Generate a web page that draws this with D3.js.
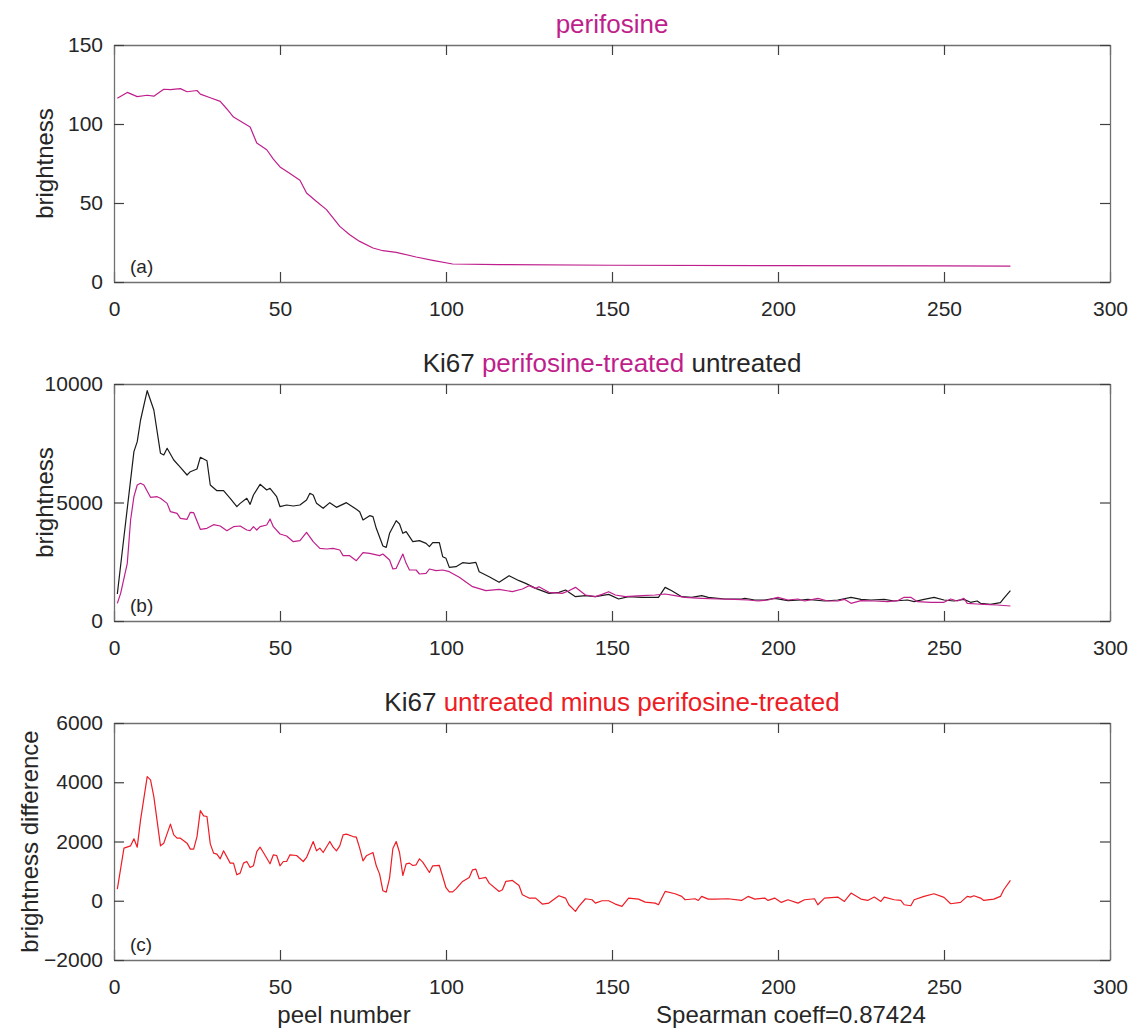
<!DOCTYPE html>
<html>
<head>
<meta charset="utf-8">
<script src="https://cdn.jsdelivr.net/npm/d3@7"></script>
<style>
    body { margin: 0; background: #fff; }
    text { font-family: "Liberation Sans", Arial, Helvetica, sans-serif; fill: #262626; }
</style>
</head>
<body>
<svg id="fig"></svg>
<script>
const xTicks = [0, 50, 100, 150, 200, 250, 300];

const perifPeel = [1, 4, 7, 10, 12, 14, 15, 17, 20, 22, 25, 26, 29, 32, 34, 36, 39, 41, 43, 46,
    48, 50, 53, 56, 58, 61, 64, 68, 71, 74, 78, 81, 85, 91, 96, 102, 116, 150, 200, 250, 270];
const perifBright = [116.3, 120, 117.3, 118.2, 117.6, 120.5, 122, 121.7, 122.4, 120.4, 121.2, 118.9,
    116.6, 114.3, 109.5, 104.4, 100.6, 98.1, 88, 83.7, 77.8, 72.8, 68.6, 64.4, 56.3, 51, 45.8, 35.2,
    29.9, 25.7, 21.5, 19.8, 18.8, 15.8, 13.7, 11.4, 11, 10.6, 10.4, 10.2, 10.1];
const perifTicks = [0, 50, 100, 150];

const untreatedPeel = [1, 3, 6, 7, 8, 10, 12, 14, 15, 16,
    18, 20, 22, 23, 25, 26, 28, 29, 31, 33,
    35, 37, 38, 40, 41, 42, 44, 46, 47, 49,
    50, 52, 54, 56, 58, 59, 60, 61, 63, 65,
    67, 70, 73, 74, 75, 77, 78, 79, 81, 82,
    83, 85, 86, 87, 88, 90, 92, 94, 95, 96,
    98, 99, 100, 101, 103, 105, 107, 109, 110, 113,
    116, 119, 122, 124, 127, 131, 134, 136, 139, 142,
    145, 149, 152, 155, 159, 164, 166, 168, 171, 174,
    177, 179, 184, 189, 190, 193, 196, 199, 203, 207,
    209, 214, 218, 222, 225, 228, 232, 235, 239, 241,
    244, 247, 250, 253, 256, 258, 260, 261, 264, 267,
    268, 270];
const untreatedKi67 = [1139, 3557, 7145, 7567, 8481, 9718, 8903, 7075, 7005, 7286,
    6793, 6484, 6160, 6300, 6413, 6906, 6763, 5738, 5498, 5498,
    5177, 4823, 4964, 5177, 4922, 5316, 5767, 5527, 5598, 5245,
    4823, 4894, 4852, 4894, 5105, 5387, 5316, 4964, 4754, 4993,
    4796, 4993, 4712, 4613, 4262, 4444, 4402, 3910, 3165, 3108,
    3699, 4233, 4093, 3699, 3770, 3347, 3389, 3277, 3136, 3305,
    3305, 2714, 2644, 2264, 2292, 2461, 2433, 2475, 2081, 1870,
    1631, 1913, 1702, 1589, 1378, 1167, 1209, 1308, 1027, 1069,
    1027, 1125, 928, 1027, 997, 997, 1420, 1279, 1027, 997,
    1069, 997, 928, 928, 956, 886, 886, 956, 858, 886,
    914, 844, 886, 997, 914, 886, 914, 844, 886, 816,
    914, 997, 886, 844, 914, 788, 844, 745, 703, 774,
    956, 1279];

const treatedPeel = [1, 2, 4, 5, 6, 7, 8, 9, 11, 13,
    14, 16, 17, 19, 20, 22, 23, 24, 26, 28,
    30, 32, 34, 36, 38, 40, 41, 42, 43, 44,
    46, 47, 48, 50, 52, 54, 56, 58, 60, 62,
    64, 66, 68, 69, 71, 73, 75, 77, 80, 81,
    83, 84, 85, 87, 88, 89, 91, 92, 94, 95,
    97, 99, 101, 104, 108, 112, 116, 120, 123, 125,
    127, 128, 131, 135, 137, 139, 142, 145, 147, 149,
    151, 154, 159, 163, 166, 169, 172, 177, 182, 187,
    191, 194, 197, 200, 203, 206, 208, 212, 215, 218,
    220, 222, 225, 229, 233, 236, 238, 240, 242, 246,
    250, 252, 254, 256, 257, 260, 262, 266, 270];
const treatedKi67 = [745, 1167, 2433, 4262, 5245, 5738, 5809, 5738, 5218, 5245,
    5177, 4964, 4613, 4543, 4332, 4290, 4585, 4571, 3868, 3910,
    4063, 4008, 3810, 3980, 4008, 3840, 3810, 3980, 3840, 3980,
    4050, 4304, 3980, 3671, 3587, 3347, 3389, 3741, 3347, 3066,
    3038, 3066, 2995, 2757, 2757, 2545, 2883, 2855, 2757, 2827,
    2574, 2194, 2222, 2827, 2433, 2152, 2152, 1983, 2011, 2194,
    2124, 2152, 2081, 1842, 1448, 1279, 1335, 1237, 1350, 1491,
    1378, 1448, 1209, 1167, 1279, 1420, 1097, 1027, 1125, 1237,
    1097, 1027, 1069, 1097, 1139, 1069, 997, 956, 928, 914,
    886, 844, 886, 997, 886, 928, 844, 956, 844, 844,
    914, 745, 858, 844, 816, 858, 1000, 997, 816, 788,
    788, 928, 844, 956, 745, 717, 703, 675, 633];
const ki67Ticks = [0, 5000, 10000];

const diffPeel = [1, 3, 5, 6, 7, 8, 10, 11, 12, 14,
    15, 17, 18, 19, 20, 22, 23, 24, 25, 26,
    27, 28, 29, 30, 31, 32, 33, 35, 36, 37,
    38, 39, 40, 41, 42, 43, 44, 45, 47, 48,
    49, 50, 51, 52, 53, 55, 57, 58, 60, 61,
    62, 63, 65, 66, 67, 68, 69, 70, 72, 73,
    74, 75, 76, 78, 79, 80, 81, 82, 83, 84,
    85, 86, 87, 88, 89, 90, 91, 92, 93, 95,
    96, 98, 99, 100, 101, 102, 103, 105, 107, 108,
    109, 110, 112, 113, 116, 117, 118, 120, 122, 123,
    125, 127, 129, 131, 134, 136, 137, 139, 140, 142,
    144, 145, 147, 149, 151, 153, 155, 158, 160, 163,
    164, 166, 169, 171, 172, 175, 176, 177, 179, 181,
    185, 189, 191, 193, 196, 197, 199, 201, 203, 206,
    208, 211, 212, 214, 218, 220, 222, 225, 227, 229,
    231, 232, 235, 237, 238, 240, 241, 244, 247, 250,
    252, 255, 257, 258, 259, 261, 262, 265, 267, 268,
    270];
const diffKi67 = [393, 1776, 1854, 2090, 1809, 2730, 4190, 4079, 3516, 1854,
    1944, 2585, 2225, 2113, 2113, 1944, 1742, 1742, 2167, 3044,
    2865, 2843, 1921, 1607, 1573, 1416, 1685, 1270, 1270, 876,
    933, 1270, 1325, 1123, 1180, 1662, 1809, 1629, 1247, 1551,
    1528, 1180, 1325, 1325, 1551, 1528, 1325, 1461, 2000, 1685,
    1776, 1629, 2000, 1809, 1685, 1854, 2225, 2247, 2167, 2145,
    1776, 1348, 1517, 1629, 1180, 898, 337, 292, 764, 1764,
    2000, 1629, 852, 1247, 1270, 1191, 1213, 1416, 1303, 955,
    1180, 1191, 820, 440, 300, 300, 400, 652, 787, 1045,
    1067, 742, 787, 596, 315, 371, 652, 686, 517, 202,
    90, 90, -112, -79, 169, 90, -135, -360, -191, 67,
    34, -79, 0, 0, -112, -191, 90, 56, -45, -79,
    -135, 315, 236, 146, 34, 67, 11, 146, 56, 56,
    67, 11, 146, 56, 90, 11, 90, -56, 34, -79,
    34, 67, -135, 90, 124, -22, 258, 56, 11, 124,
    -22, 124, 34, 11, -135, -169, 34, 146, 236, 112,
    -101, -56, 146, 124, 169, 90, 11, 56, 146, 371,
    686];
const diffTicks = [-2000, 0, 2000, 4000, 6000];

const MAGENTA = '#bf1f8c';
const RED = '#ee1c25';
const BLACK = '#1a1a1a';

class TracePanel {

    constructor(config, traces) {
        this.config = {
            parent: config.parent,
            left: config.left,
            top: config.top,
            width: config.width,
            height: config.height,
            yticks: config.yticks,
            ylabel: config.ylabel || '',
            ylabelX: config.ylabelX || 53,
            title: config.title || [],
            tag: config.tag || '',
        };
        this.traces = traces;
        this.init();
    }

    init() {
        let self = this;
        let c = self.config;

        self.chart = c.parent.append('g')
            .attr('transform', `translate(${c.left}, ${c.top})`);

        self.xscale = d3.scaleLinear()
            .domain([0, 300])
            .range([0, c.width]);

        self.yscale = d3.scaleLinear()
            .domain(d3.extent(c.yticks))
            .range([c.height, 0]);

        // ticks point inward on all four sides, labels only bottom and left
        let xbottom = d3.axisBottom(self.xscale).tickValues(xTicks).tickSize(-10).tickSizeOuter(0)
            .tickPadding(19).tickFormat(d3.format('d'));
        let xtop = d3.axisTop(self.xscale).tickValues(xTicks).tickSize(-10).tickSizeOuter(0).tickFormat('');
        let yleft = d3.axisLeft(self.yscale).tickValues(c.yticks).tickSize(-10).tickSizeOuter(0)
            .tickPadding(11).tickFormat(d3.format('d'));
        let yright = d3.axisRight(self.yscale).tickValues(c.yticks).tickSize(-10).tickSizeOuter(0).tickFormat('');

        self.chart.append('g').attr('transform', `translate(0, ${c.height})`).call(xbottom);
        self.chart.append('g').call(xtop);
        self.chart.append('g').call(yleft);
        self.chart.append('g').attr('transform', `translate(${c.width}, 0)`).call(yright);

        self.chart.selectAll('.domain').attr('stroke', '#707070').attr('stroke-width', 1.3);
        self.chart.selectAll('.tick line').attr('stroke', '#404040').attr('stroke-width', 1.2);
        self.chart.selectAll('.tick text')
            .attr('font-size', '21px')
            .attr('font-family', '"Liberation Sans", Arial, sans-serif')
            .attr('fill', '#262626');
    }

    render() {
        let self = this;
        let c = self.config;

        let line = d3.line()
            .x(d => self.xscale(d[0]))
            .y(d => self.yscale(d[1]));

        self.chart.selectAll('path.trace')
            .data(self.traces)
            .join('path')
            .attr('class', 'trace')
            .attr('fill', 'none')
            .attr('stroke', d => d.color)
            .attr('stroke-width', 1.2)
            .attr('stroke-linejoin', 'round')
            .attr('d', d => line(d3.zip(d.x, d.y)));

        self.chart.append('text')
            .attr('x', 16)
            .attr('y', c.height - 9)
            .attr('font-size', '19px')
            .text(c.tag);

        self.chart.append('text')
            .attr('transform', `translate(${c.ylabelX - c.left}, ${c.height / 2}) rotate(-90)`)
            .attr('font-size', '24px')
            .attr('text-anchor', 'middle')
            .text(c.ylabel);

        let title = self.chart.append('text')
            .attr('x', c.width / 2)
            .attr('y', -12)
            .attr('font-size', '26px')
            .attr('text-anchor', 'middle');
        title.selectAll('tspan')
            .data(c.title)
            .join('tspan')
            .style('fill', d => d.color)
            .text(d => d.text);
    }
}

const svg = d3.select('#fig')
    .attr('width', 1128)
    .attr('height', 1030);

const panels = [
    new TracePanel({
        parent: svg, left: 114, top: 45, width: 996, height: 237,
        yticks: perifTicks, ylabel: 'brightness', tag: '(a)',
        title: [{ text: 'perifosine', color: MAGENTA }],
    }, [
        { x: perifPeel, y: perifBright, color: MAGENTA },
    ]),
    new TracePanel({
        parent: svg, left: 114, top: 384, width: 996, height: 237,
        yticks: ki67Ticks, ylabel: 'brightness', tag: '(b)',
        title: [
            { text: 'Ki67 ', color: '#262626' },
            { text: 'perifosine-treated', color: MAGENTA },
            { text: ' untreated', color: '#262626' },
        ],
    }, [
        { x: untreatedPeel, y: untreatedKi67, color: BLACK },
        { x: treatedPeel, y: treatedKi67, color: MAGENTA },
    ]),
    new TracePanel({
        parent: svg, left: 114, top: 723, width: 996, height: 237,
        yticks: diffTicks, ylabel: 'brightness difference', ylabelX: 38, tag: '(c)',
        title: [
            { text: 'Ki67 ', color: '#262626' },
            { text: 'untreated minus perifosine-treated', color: RED },
        ],
    }, [
        { x: diffPeel, y: diffKi67, color: RED },
    ]),
];
panels.forEach(p => p.render());

svg.append('text')
    .attr('x', 344)
    .attr('y', 1023)
    .attr('font-size', '24px')
    .attr('text-anchor', 'middle')
    .text('peel number');

svg.append('text')
    .attr('x', 791)
    .attr('y', 1023)
    .attr('font-size', '24px')
    .attr('text-anchor', 'middle')
    .text('Spearman coeff=0.87424');
</script>
</body>
</html>
